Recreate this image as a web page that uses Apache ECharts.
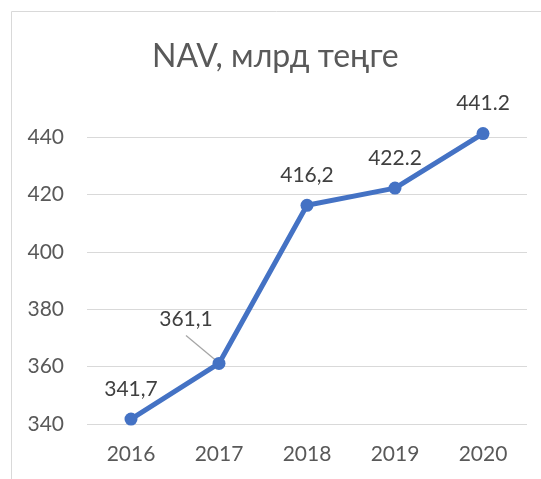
<!DOCTYPE html>
<html><head><meta charset="utf-8">
<script src="https://cdn.jsdelivr.net/npm/echarts@6/dist/echarts.min.js"></script>
<style>html,body{margin:0;padding:0;background:#fff}#c{width:541px;height:479px}</style>
</head><body><div id="c"></div>
<script>
var categories = ['2016', '2017', '2018', '2019', '2020'];
var values = [341.7, 361.1, 416.2, 422.2, 441.2];
var labelTexts = ['341,7', '361,1', '416,2', '422.2', '441.2'];
var yTicks = [340, 360, 380, 400, 420, 440];
var titleText = 'NAV, млрд теңге';

var FONT = 'Lato';
var chart = echarts.init(document.getElementById('c'), null, {renderer: 'canvas'});
chart.setOption({
  animation: false,
  title: {text: titleText, left: 147, top: 36,
    textStyle: {fontFamily: FONT, fontSize: 32, fontWeight: 'normal', color: '#595959'}},
  grid: {left: 87, right: 14, top: 137, bottom: 55},
  xAxis: {type: 'category', data: categories, boundaryGap: true,
    axisLine: {show: false}, axisTick: {show: false},
    axisLabel: {margin: 20, fontFamily: FONT, fontSize: 21, color: '#595959'}},
  yAxis: {type: 'value', min: yTicks[0], max: yTicks[yTicks.length - 1], interval: 20,
    axisLine: {show: false}, axisTick: {show: false},
    splitLine: {lineStyle: {color: '#d9d9d9', width: 1}},
    axisLabel: {margin: 23, fontFamily: FONT, fontSize: 21, color: '#595959'}},
  series: [{
    type: 'line', clip: false,
    data: values,
    symbol: 'circle', symbolSize: 13,
    lineStyle: {color: '#4472C4', width: 5},
    itemStyle: {color: '#4472C4'},
    label: {show: true, position: 'top', distance: 13,
      fontFamily: FONT, fontSize: 21, color: '#404040',
      formatter: function (p) { return labelTexts[p.dataIndex]; }},
    labelLayout: function (p) {
      if (p.dataIndex === 1) return {dx: -33, dy: -14};
      return {};
    }
  }]
});
var pt = chart.convertToPixel({gridIndex: 0}, [1, values[1]]);
chart.setOption({
  graphic: [
    {type: 'rect', shape: {x: 11.5, y: 11.5, width: 560, height: 500},
      style: {fill: 'none', stroke: '#d9d9d9', lineWidth: 1}, silent: true, z: 0},
    {type: 'line', shape: {x1: pt[0] - 33, y1: pt[1] - 28, x2: pt[0] - 3, y2: pt[1] - 3},
      style: {stroke: '#a6a6a6', lineWidth: 1.3}, silent: true, z: 1}
  ]
});
</script></body></html>
